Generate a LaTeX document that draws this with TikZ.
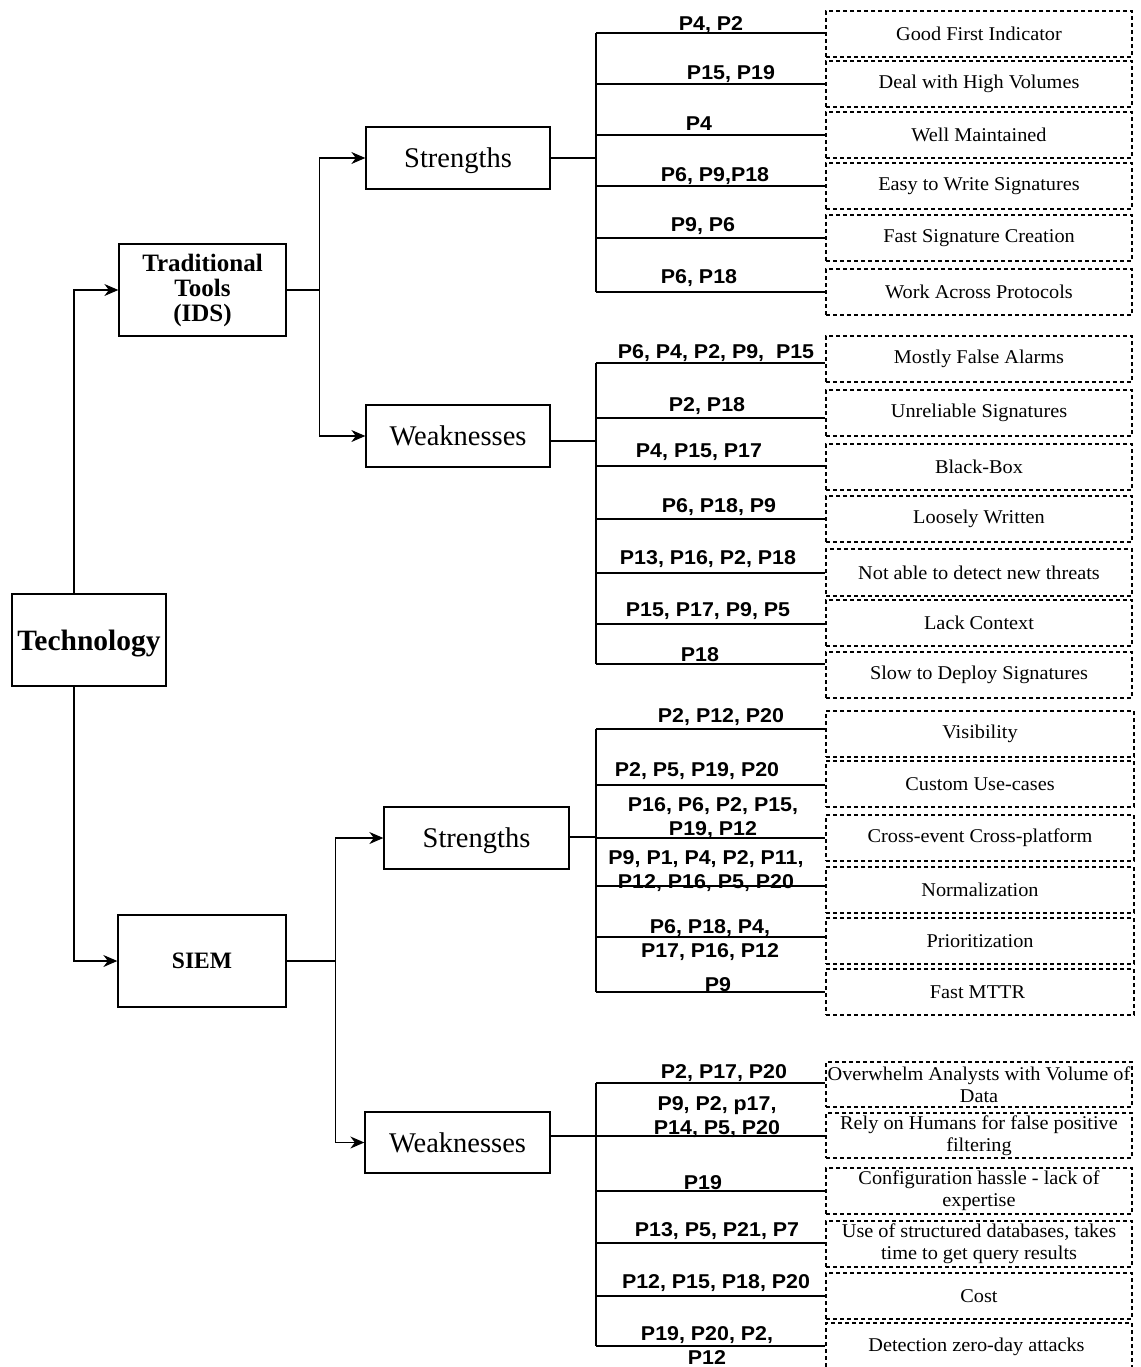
\documentclass[tikz,border=0pt]{standalone}
\usepackage{fontspec}
\setmainfont{Liberation Serif}
\newfontfamily\leaffont[FakeStretch=1.04]{Liberation Serif}
\newfontfamily\labfont[FakeStretch=1.07]{Liberation Sans}
\usetikzlibrary{arrows.meta}
\begin{document}
\begin{tikzpicture}[x=1pt,y=-1pt,
  conn/.style={line width=1.3pt},
  arr/.style={line width=1.3pt,-{Stealth[length=14pt,width=12pt,inset=4.5pt]}},
  solidbox/.style={draw,line width=1.3pt,inner sep=0pt,align=center},
  capbox/.style={solidbox,text depth=0pt},
  leaf/.style={draw,line width=1.1pt,dash pattern=on 4pt off 3pt,inner sep=0pt,align=center,
    font=\leaffont\fontsize{19.5}{22}\selectfont},
  plab/.style={align=center,inner sep=0pt,font=\labfont\bfseries\fontsize{20}{24}\selectfont},
  big/.style={font=\fontsize{28.5}{30}\selectfont},
]
\useasboundingbox (0,0) rectangle (1140,1367);
\clip (0,0) rectangle (1140,1367);

% main boxes
\node[capbox,minimum width=154pt,minimum height=92pt,font=\bfseries\fontsize{29.5}{30}\selectfont] (tech) at (89,640) {Technology};
\node[solidbox,minimum width=167pt,minimum height=92pt,font=\bfseries\fontsize{25}{25}\selectfont] (trad) at (202.5,290) {Traditional\\Tools\\(IDS)};
\node[capbox,minimum width=168pt,minimum height=92pt,font=\bfseries\fontsize{23.5}{24}\selectfont] (siem) at (202,961) {SIEM};
\node[capbox,big,minimum width=184pt,minimum height=62pt] (ids-s) at (458,158) {Strengths};
\node[capbox,big,minimum width=184pt,minimum height=62pt] (ids-w) at (458,436) {Weaknesses};
\node[capbox,big,minimum width=185pt,minimum height=62pt] (siem-s) at (476.5,838) {Strengths};
\node[capbox,big,minimum width=185pt,minimum height=61pt] (siem-w) at (457.5,1142.5) {Weaknesses};

% tree connectors
\coordinate (techtop) at (74,594);
\coordinate (techbot) at (74,686);
\draw[arr] (techtop) |- (trad.west);
\draw[arr] (techbot) |- (siem.west);
\draw[arr] (trad.east) -- ++(33,0) |- (ids-s.west);
\draw[arr] (trad.east) -- ++(33,0) |- (ids-w.west);
\draw[arr] (siem.east) -- ++(49,0) |- (siem-s.west);
\draw[arr] (siem.east) -- ++(49,0) |- (siem-w.west);

% buses
\draw[conn] (596,33) -- (596,292);
\draw[conn] (ids-s.east) -- (ids-s.east -| 596,0);
\draw[conn] (596,363) -- (596,664);
\draw[conn] (ids-w.east |- 0,441) -- (596,441);
\draw[conn] (596,729) -- (596,992);
\draw[conn] (siem-s.east |- 0,837) -- (596,837);
\draw[conn] (596,1083) -- (596,1346);
\draw[conn] (siem-w.east |- 0,1136) -- (596,1136);

% leaves: name/top/bottom/line/label x/label y/label/text
\foreach \n/\t/\b/\l/\lx/\ly/\lab/\txt in {
  is1/11/57/33/711/25/{P4, P2}/{Good First Indicator},
  is2/61/107/84/731/74/{P15, P19}/{Deal with High Volumes},
  is3/112/158/135/699/124/{P4}/{Well Maintained},
  is4/163/209/186/715/176/{P6, P9,P18}/{Easy to Write Signatures},
  is5/215/261/238/703/226/{P9, P6}/{Fast Signature Creation},
  is6/269/315/292/699/278/{P6, P18}/{Work Across Protocols},
  iw1/336/382/363/716/353/{P6, P4, P2, P9, \ P15}/{Mostly False Alarms},
  iw2/390/436/418/707/406/{P2, P18}/{Unreliable Signatures},
  iw3/444/490/466/699/452/{P4, P15, P17}/{Black-Box},
  iw4/496/542/519/719/507/{P6, P18, P9}/{Loosely Written},
  iw5/549/596/573/708/559/{P13, P16, P2, P18}/{Not able to detect new threats},
  iw6/600/646/624/708/611/{P15, P17, P9, P5}/{Lack Context},
  iw7/652/698/664/700/655/{P18}/{Slow to Deploy Signatures},
  sw1/1062/1107/1083/724/1073/{P2, P17, P20}/{Overwhelm Analysts with Volume of\\Data},
  sw2/1113/1158/1136/717/1117/{P9, P2, p17,\\P14, P5, P20}/{Rely on Humans for false positive\\filtering},
  sw3/1168/1214/1191/703/1183/{P19}/{Configuration hassle - lack of\\expertise},
  sw4/1221/1267/1243/717/1231/{P13, P5, P21, P7}/{Use of structured databases, takes\\time to get query results},
  sw5/1273/1319/1296/716/1283/{P12, P15, P18, P20}/{Cost},
  sw6/1323/1371/1346/707/1346/{P19, P20, P2,\\P12}/{Detection zero-day attacks}
}{
  \pgfmathsetmacro\h{\b-\t}
  \pgfmathsetmacro\c{(\t+\b)/2}
  \node[leaf,minimum width=306pt,minimum height=\h pt] (\n) at (979,\c) {\txt};
  \node[plab] (\n-l) at (\lx,\ly) {\lab};
  \draw[conn] (596,\l) -- (\n.west |- 596,\l);
}
\foreach \n/\t/\b/\l/\lx/\ly/\lab/\txt in {
  ss1/711/757/729/721/717/{P2, P12, P20}/{Visibility},
  ss2/761/807/785/697/771/{P2, P5, P19, P20}/{Custom Use-cases},
  ss3/815/861/838/713/818/{P16, P6, P2, P15,\\P19, P12}/{Cross-event Cross-platform},
  ss4/867/913/886/706/871/{P9, P1, P4, P2, P11,\\P12, P16, P5, P20}/{Normalization},
  ss5/918/964/937/710/940/{P6, P18, P4,\\P17, P16, P12}/{Prioritization},
  ss6/969/1015/992/718/985/{P9}/{Fast MTTR}
}{
  \pgfmathsetmacro\h{\b-\t}
  \pgfmathsetmacro\c{(\t+\b)/2}
  \node[leaf,minimum width=308pt,minimum height=\h pt] (\n) at (980,\c) {\txt};
  \node[plab] (\n-l) at (\lx,\ly) {\lab};
  \draw[conn] (596,\l) -- (\n.west |- 596,\l);
}
\end{tikzpicture}
\end{document}
